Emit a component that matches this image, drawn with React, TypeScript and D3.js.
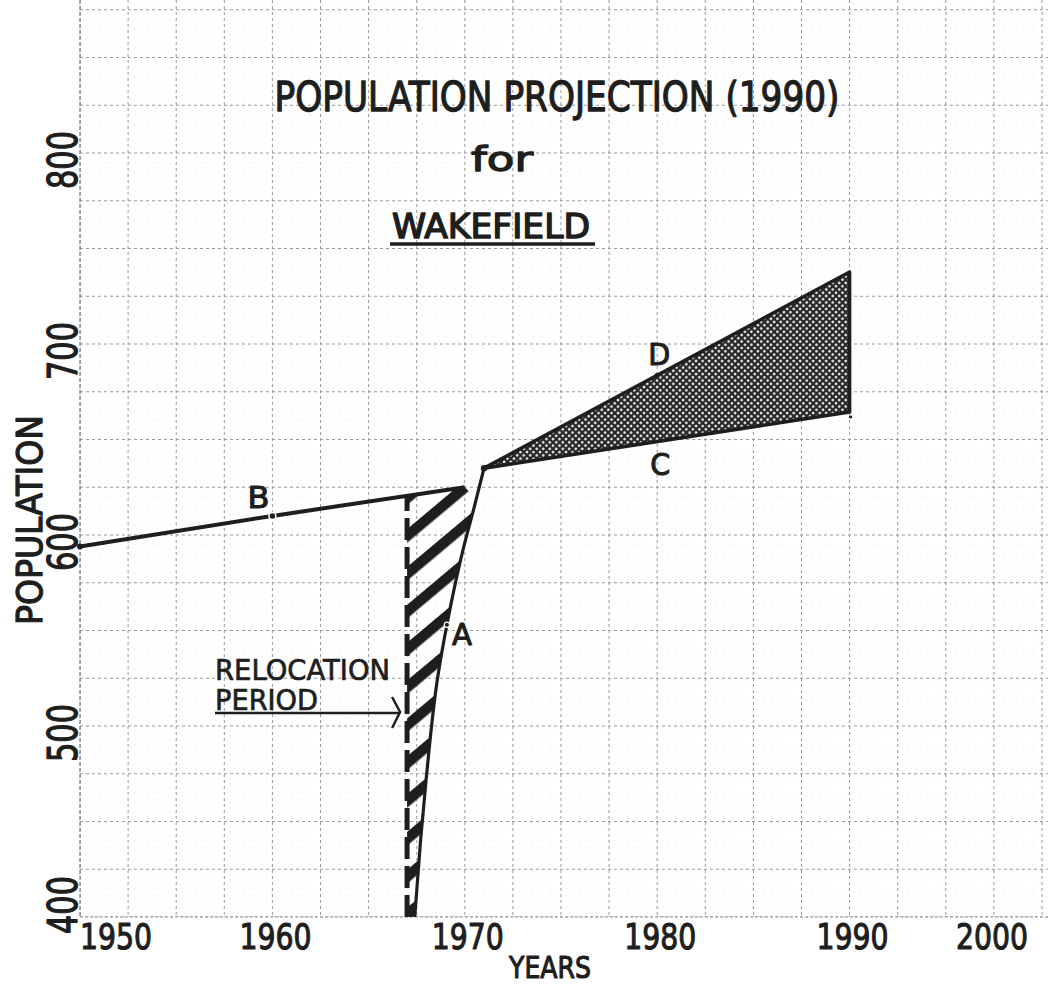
import { useMemo } from "react";
import * as d3 from "d3";

// historical line B (pre-relocation trend)
const lineBYears = [1950, 1960, 1970];
const lineBValues = [594, 610, 625];

// curve A (relocation growth)
const curveAYears = [1967.4, 1967.7, 1968.0, 1968.6, 1969.07, 1969.9, 1970.5, 1971];
const curveAValues = [400, 440, 473, 526, 553, 592, 615, 635];

// projection wedge: start, high (D) and low (C) ends
const projYears = [1971, 1990];
const projHigh = [635, 737.7];
const projLow = [635, 664.4];

const relocationStart = 1967;
const markYears = { A: 1969.07, B: 1960, D: 1980, C: 1980 };

const xTicks = [1950, 1960, 1970, 1980, 1990, 2000];
const yTicks = [400, 500, 600, 700, 800];

const W = 1048;
const H = 984;
const FONT = "DejaVu Sans, Liberation Sans, sans-serif";
const INK = "#1e1e1e";

const x = d3.scaleLinear().domain([1950, 2000]).range([80, 1042]);
const y = d3.scaleLinear().domain([400, 900]).range([917, -38]);

const interp = (xs: number[], vs: number[], t: number) => {
  const i = Math.max(0, Math.min(xs.length - 2, d3.bisectRight(xs, t) - 1));
  const f = (t - xs[i]) / (xs[i + 1] - xs[i]);
  return vs[i] + f * (vs[i + 1] - vs[i]);
};

function Label({ x, y, size, len, anchor = "start", rotate = 0, weight = 1.1, children }) {
  return (
    <text
      transform={`translate(${x},${y}) rotate(${rotate})`}
      fontSize={size}
      fontFamily={FONT}
      fill={INK}
      stroke={INK}
      strokeWidth={weight}
      strokeLinejoin="round"
      textAnchor={anchor}
      textLength={len}
      lengthAdjust="spacingAndGlyphs"
    >
      {children}
    </text>
  );
}

export default function App() {
  const majorX = d3.range(1950, 2000.01, 2.5);
  const majorY = d3.range(400, 880, 25);
  const minorX = d3.range(1950, 2000.01, 0.5);
  const minorY = d3.range(400, 880, 5);

  const lineB = d3.line<number>().x((d) => x(lineBYears[d])).y((d) => y(lineBValues[d]));
  const curveA = d3
    .line<number>()
    .x((d) => x(curveAYears[d]))
    .y((d) => y(curveAValues[d]))
    .curve(d3.curveMonotoneY);

  const relocTop = interp(lineBYears, lineBValues, relocationStart);

  const hatchPath = useMemo(() => {
    const pts: [number, number][] = [
      [x(relocationStart), y(400)],
      [x(relocationStart), y(relocTop)],
      [x(1970), y(lineBValues[2])],
      [x(1970.6), y(619)],
    ];
    for (let i = curveAYears.length - 2; i >= 0; i--) {
      pts.push([x(curveAYears[i]), y(curveAValues[i])]);
    }
    return d3.line()(pts) + "Z";
  }, [relocTop]);

  const wedge =
    d3.line()([
      [x(projYears[0]), y(projHigh[0])],
      [x(projYears[1]), y(projHigh[1])],
      [x(projYears[1]), y(projLow[1])],
    ]) + "Z";

  const bY = interp(lineBYears, lineBValues, markYears.B);
  const aY = interp(curveAYears, curveAValues, markYears.A);
  const dY = interp(projYears, projHigh, markYears.D);
  const cY = interp(projYears, projLow, markYears.C);

  // tick label centres: first one sits right of its line, last one left of it
  const xLabelPos = (v: number, i: number) =>
    i === 0 ? x(v) + 36 : i === xTicks.length - 1 ? x(v) - 50 : x(v) + 3;

  return (
    <svg
      width={W}
      height={H}
      style={{ position: "absolute", left: 0, top: 0, background: "#fff" }}
    >
      <defs>
        <pattern
          id="hatch"
          patternUnits="userSpaceOnUse"
          width={10}
          height={29}
          patternTransform="rotate(-40)"
        >
          <rect x={0} y={0} width={10} height={10.5} fill={INK} />
        </pattern>
        <pattern
          id="stipple"
          patternUnits="userSpaceOnUse"
          width={4.6}
          height={4.6}
          patternTransform="rotate(45)"
        >
          <rect width={4.6} height={4.6} fill="#262626" />
          <circle cx={2.3} cy={2.3} r={1.3} fill="#f2f2f2" />
        </pattern>
        <clipPath id="plot">
          <rect x={80} y={0} width={W - 80} height={917} />
        </clipPath>
      </defs>

      {/* graph paper */}
      <g clipPath="url(#plot)">
        {minorX.map((v) => (
          <line key={"mx" + v} x1={x(v)} x2={x(v)} y1={0} y2={917} stroke="#e2e2e2" strokeWidth={0.6} strokeDasharray="1 5" />
        ))}
        {minorY.map((v) => (
          <line key={"my" + v} x1={80} x2={W} y1={y(v)} y2={y(v)} stroke="#e2e2e2" strokeWidth={0.6} strokeDasharray="1 5" />
        ))}
        {majorX.map((v) => (
          <line key={"gx" + v} x1={x(v)} x2={x(v)} y1={0} y2={917} stroke="#9a9a9a" strokeWidth={1} strokeDasharray="3 3" />
        ))}
        {majorY.map((v) => (
          <line key={"gy" + v} x1={80} x2={W} y1={y(v)} y2={y(v)} stroke="#9a9a9a" strokeWidth={1} strokeDasharray="3 3" />
        ))}
      </g>
      <line x1={80} x2={80} y1={0} y2={917} stroke="#777" strokeWidth={1.2} strokeDasharray="4 2" />
      <line x1={80} x2={W} y1={917} y2={917} stroke="#888" strokeWidth={1.2} strokeDasharray="3 2" />

      {/* relocation period hatch */}
      <path d={hatchPath} fill="url(#hatch)" />
      <line
        x1={x(relocationStart)}
        x2={x(relocationStart)}
        y1={y(400)}
        y2={y(relocTop)}
        stroke={INK}
        strokeWidth={5}
        strokeDasharray="22 7"
      />

      {/* projection wedge */}
      <path d={wedge} fill="url(#stipple)" stroke={INK} strokeWidth={3.5} strokeLinejoin="round" />

      {/* lines */}
      <path d={lineB(d3.range(lineBYears.length)) ?? ""} fill="none" stroke={INK} strokeWidth={4} />
      <path d={curveA(d3.range(curveAYears.length)) ?? ""} fill="none" stroke={INK} strokeWidth={3.2} />

      {/* point markers */}
      <circle cx={x(1950)} cy={y(lineBValues[0])} r={3} fill={INK} />
      <circle cx={x(markYears.B)} cy={y(bY)} r={3.5} fill={INK} stroke="#fff" strokeWidth={1.5} />
      <circle cx={x(markYears.A)} cy={y(aY)} r={2.6} fill={INK} stroke="#fff" strokeWidth={1.2} />
      <circle cx={x(projYears[0])} cy={y(projHigh[0])} r={3.2} fill={INK} />
      <circle cx={x(markYears.D)} cy={y(dY)} r={2.5} fill={INK} />
      <circle cx={x(projYears[1]) + 1} cy={y(projLow[1]) + 5} r={1.6} fill={INK} />

      <Label x={x(markYears.B) - 25} y={y(bY) - 8} size={30} len={22}>B</Label>
      <Label x={x(markYears.A) + 5} y={y(aY) + 20} size={30} len={20}>A</Label>
      <Label x={x(markYears.D) - 9} y={y(dY) - 10} size={30} len={22}>D</Label>
      <Label x={x(markYears.C) - 7} y={y(cY) + 33} size={30} len={20}>C</Label>

      {/* relocation annotation */}
      <Label x={215} y={680} size={29} len={175} weight={0.7}>RELOCATION</Label>
      <Label x={215} y={710} size={29} len={103} weight={0.7}>PERIOD</Label>
      <line x1={215} x2={x(relocationStart) - 8} y1={713} y2={713} stroke={INK} strokeWidth={2.5} />
      <path
        d={`M${x(relocationStart) - 15},697 L${x(relocationStart) - 7},712 L${x(relocationStart) - 15},728`}
        fill="none"
        stroke={INK}
        strokeWidth={2.5}
      />

      {/* titles */}
      <Label x={557} y={111} size={40} len={565} anchor="middle" weight={1.3}>POPULATION PROJECTION (1990)</Label>
      <Label x={502} y={171} size={34} len={62} anchor="middle" weight={1.3}>for</Label>
      <Label x={491} y={238} size={34} len={198} anchor="middle" weight={1.5}>WAKEFIELD</Label>
      <line x1={390} x2={595} y1={244} y2={244} stroke={INK} strokeWidth={3.5} />

      {/* axes labels */}
      {yTicks.map((v) => (
        <Label
          key={"yt" + v}
          x={77}
          y={v === 400 ? y(v) - 12 : y(v) + 7}
          size={40}
          len={58}
          anchor="middle"
          rotate={-90}
          weight={1.2}
        >
          {String(v)}
        </Label>
      ))}
      {xTicks.map((v, i) => (
        <Label
          key={"xt" + v}
          x={xLabelPos(v, i)}
          y={949}
          size={36}
          len={72}
          anchor="middle"
          weight={1.2}
        >
          {String(v)}
        </Label>
      ))}
      <Label x={42} y={520} size={36} len={210} anchor="middle" rotate={-90} weight={1.3}>POPULATION</Label>
      <Label x={550} y={978} size={31} len={82} anchor="middle" weight={1.2}>YEARS</Label>
    </svg>
  );
}
